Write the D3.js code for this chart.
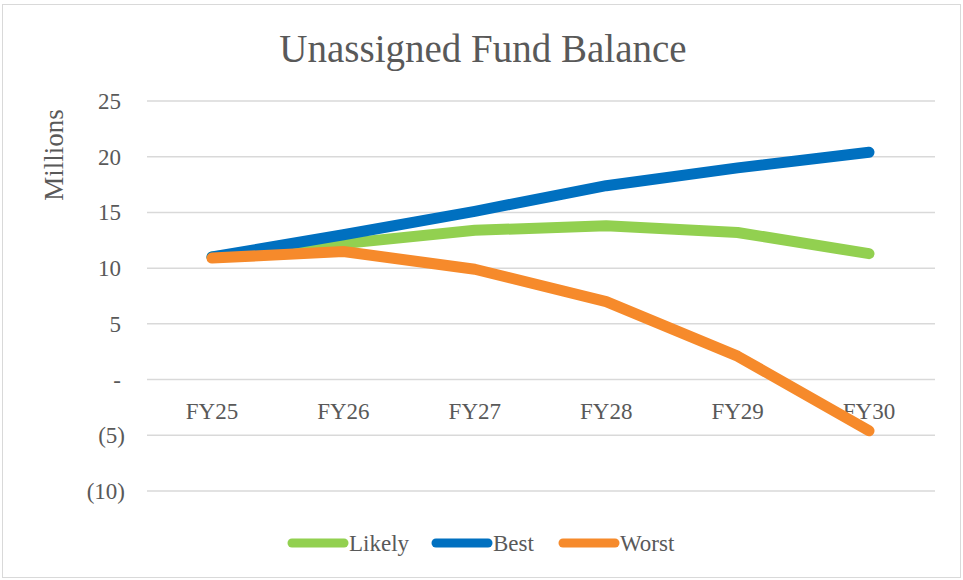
<!DOCTYPE html>
<html><head><meta charset="utf-8">
<script src="https://cdn.jsdelivr.net/npm/d3@7"></script>
<style>body{margin:0;background:#fff}svg{display:block}text{font-family:"Liberation Serif","DejaVu Serif",serif;fill:#595959}</style>
</head><body>
<svg id="c" width="963" height="580"></svg>
<script>
const categories = ["FY25","FY26","FY27","FY28","FY29","FY30"];
const likely = [11.0, 12.2, 13.4, 13.8, 13.2, 11.3];
const best   = [11.0, 13.0, 15.1, 17.4, 19.0, 20.4];
const worst  = [10.9, 11.5, 9.9, 7.0, 2.1, -4.6];
const yTicks = [25, 20, 15, 10, 5, 0, -5, -10];
const seriesNames = ["Likely","Best","Worst"];
const colors = ["#92D050","#0070C0","#F68A2B"];

const svg = d3.select("#c");
svg.append("rect").attr("x",2.5).attr("y",4.5).attr("width",958).attr("height",573)
  .attr("fill","#fff").attr("stroke","#d9d9d9");

const x = d3.scalePoint().domain(categories).range([212, 869]);
const y = d3.scaleLinear().domain([-10, 25]).range([491, 101]);
const gridX0 = 147, gridX1 = 935;

const fmt = v => v === 0 ? "-" : v < 0 ? `(${Math.abs(v)})` : String(v);

svg.append("g").selectAll("line").data(yTicks).join("line")
  .attr("x1",gridX0).attr("x2",gridX1).attr("y1",d=>y(d)).attr("y2",d=>y(d))
  .attr("stroke","#d9d9d9").attr("stroke-width",1.5);

svg.append("g").selectAll("text").data(yTicks).join("text")
  .attr("x",d => d < 0 ? 125 : 121).attr("y",d=>y(d)+8).attr("text-anchor","end")
  .attr("font-size",23).text(fmt);

svg.append("g").selectAll("text").data(categories).join("text")
  .attr("x",d=>x(d)).attr("y",y(0)+39).attr("text-anchor","middle")
  .attr("font-size",23).text(d=>d);

svg.append("text").attr("transform","translate(63,155) rotate(-90)")
  .attr("text-anchor","middle").attr("font-size",27).text("Millions");

svg.append("text").attr("x",483).attr("y",62).attr("text-anchor","middle")
  .attr("font-size",39).text("Unassigned Fund Balance");

const data = [likely, best, worst];
const line = d3.line().x((d,i)=>x(categories[i])).y(d=>y(d));
svg.append("g").selectAll("path").data(data).join("path")
  .attr("d",line).attr("fill","none").attr("stroke",(d,i)=>colors[i])
  .attr("stroke-width",11).attr("stroke-linecap","round").attr("stroke-linejoin","round");

const legX = [288, 432, 559];
const leg = svg.append("g").selectAll("g").data(seriesNames).join("g")
  .attr("transform",(d,i)=>`translate(${legX[i]},543)`);
leg.append("line").attr("x1",4).attr("x2",56).attr("y1",0).attr("y2",0)
  .attr("stroke",(d,i)=>colors[i]).attr("stroke-width",9).attr("stroke-linecap","round");
leg.append("text").attr("x",61).attr("y",8).attr("font-size",23).text(d=>d);
</script>
</body></html>
